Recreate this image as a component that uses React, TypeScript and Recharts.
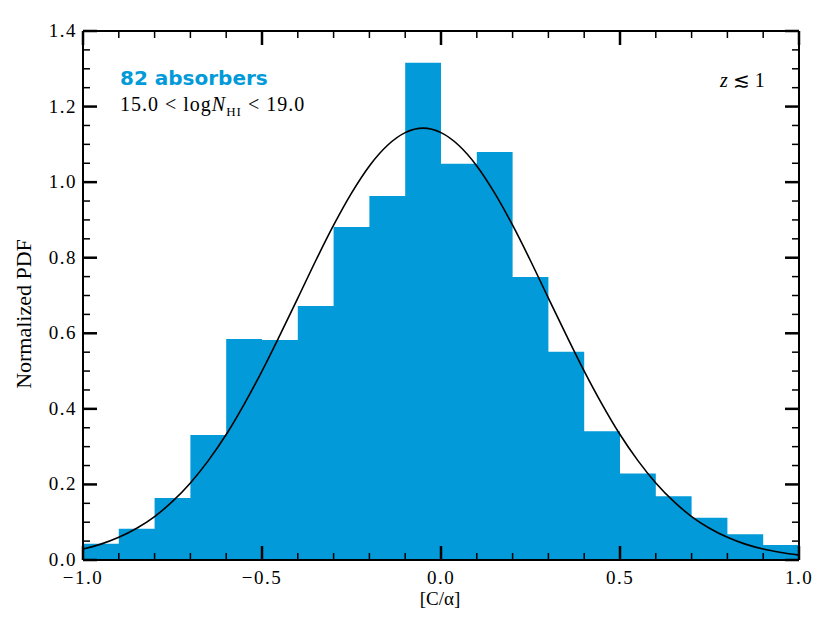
import React from "react"
import { ComposedChart, Area, Line, XAxis, YAxis } from "recharts"

// histogram: left edge of each 0.1 bin and its height (last point closes the step)
const binEdges = [-1.0, -0.9, -0.8, -0.7, -0.6, -0.5, -0.4, -0.3, -0.2, -0.1, 0.0, 0.1, 0.2, 0.3, 0.4, 0.5, 0.6, 0.7, 0.8, 0.9, 1.0]
const binHeights = [0.043, 0.083, 0.164, 0.331, 0.585, 0.582, 0.672, 0.881, 0.963, 1.316, 1.049, 1.08, 0.749, 0.551, 0.341, 0.229, 0.169, 0.112, 0.068, 0.04, 0.04]

// fitted gaussian
const curveX = [-1.0, -0.95, -0.9, -0.85, -0.8, -0.75, -0.7, -0.65, -0.6, -0.55, -0.5, -0.45, -0.4, -0.35, -0.3, -0.25, -0.2, -0.15, -0.1, -0.05, 0.0, 0.05, 0.1, 0.15, 0.2, 0.25, 0.3, 0.35, 0.4, 0.45, 0.5, 0.55, 0.6, 0.65, 0.7, 0.75, 0.8, 0.85, 0.9, 0.95, 1.0]
const curveY = [0.029, 0.042, 0.06, 0.084, 0.115, 0.155, 0.204, 0.263, 0.332, 0.412, 0.5, 0.595, 0.693, 0.792, 0.886, 0.971, 1.043, 1.097, 1.131, 1.143, 1.131, 1.097, 1.043, 0.971, 0.886, 0.792, 0.693, 0.595, 0.5, 0.412, 0.332, 0.263, 0.204, 0.155, 0.115, 0.084, 0.06, 0.042, 0.029, 0.02, 0.013]

const xTicks = [-1.0, -0.9, -0.8, -0.7, -0.6, -0.5, -0.4, -0.3, -0.2, -0.1, 0.0, 0.1, 0.2, 0.3, 0.4, 0.5, 0.6, 0.7, 0.8, 0.9, 1.0]
const yTicks = [0, 0.05, 0.1, 0.15, 0.2, 0.25, 0.3, 0.35, 0.4, 0.45, 0.5, 0.55, 0.6, 0.65, 0.7, 0.75, 0.8, 0.85, 0.9, 0.95, 1.0, 1.05, 1.1, 1.15, 1.2, 1.25, 1.3, 1.35, 1.4]

const histData = binEdges.map((x, i) => ({ x, h: binHeights[i] }))
const curveData = curveX.map((x, i) => ({ x, f: curveY[i] }))

const BLUE = "#029ad8"
const SERIF = "'Liberation Serif', 'DejaVu Serif', serif"
const MAJOR = 14
const MINOR = 7

const isMajor = (v: number, step: number) => Math.abs(v / step - Math.round(v / step)) < 1e-6
const fmt = (v: number) => (v < 0 ? "\u2212" : "") + Math.abs(v).toFixed(1)

const labelStyle = { fontFamily: SERIF, fontSize: 19, fill: "#000", letterSpacing: 1.5 }

function BottomTick({ x, y, payload }: any) {
  const major = isMajor(payload.value, 0.5)
  return (
    <g>
      <line x1={x} x2={x} y1={y} y2={y - (major ? MAJOR : MINOR)} stroke="#000" strokeWidth={major ? 2.5 : 1.5} />
      {major && (
        <text x={x} y={y + 24} textAnchor="middle" style={labelStyle}>
          {fmt(payload.value)}
        </text>
      )}
    </g>
  )
}

function TopTick({ x, y, payload }: any) {
  const major = isMajor(payload.value, 0.5)
  return <line x1={x} x2={x} y1={y} y2={y + (major ? MAJOR : MINOR)} stroke="#000" strokeWidth={major ? 2.5 : 1.5} />
}

function LeftTick({ x, y, payload }: any) {
  const major = isMajor(payload.value, 0.2)
  return (
    <g>
      <line x1={x} x2={x + (major ? MAJOR : MINOR)} y1={y} y2={y} stroke="#000" strokeWidth={major ? 2.5 : 1.5} />
      {major && (
        <text x={x - 6} y={y + 6} textAnchor="end" style={labelStyle}>
          {fmt(payload.value)}
        </text>
      )}
    </g>
  )
}

function RightTick({ x, y, payload }: any) {
  const major = isMajor(payload.value, 0.2)
  return <line x1={x} x2={x - (major ? MAJOR : MINOR)} y1={y} y2={y} stroke="#000" strokeWidth={major ? 2.5 : 1.5} />
}

export default function App() {
  const axisLine = { stroke: "#000", strokeWidth: 2 }

  return (
    <div style={{ position: "absolute", left: 0, top: 0, width: 830, height: 623, background: "#fff" }}>
      <ComposedChart width={830} height={623} margin={{ top: 0, right: 0, bottom: 0, left: 0 }}>
        <Area
          data={histData}
          xAxisId="b"
          yAxisId="l"
          type="stepAfter"
          dataKey="h"
          stroke="none"
          fill={BLUE}
          fillOpacity={1}
          dot={false}
          activeDot={false}
          isAnimationActive={false}
        />
        <Line
          data={curveData}
          xAxisId="b"
          yAxisId="l"
          type="monotone"
          dataKey="f"
          stroke="#000"
          strokeWidth={1.6}
          dot={false}
          activeDot={false}
          isAnimationActive={false}
        />
        <XAxis
          xAxisId="b"
          dataKey="x"
          type="number"
          domain={[-1, 1]}
          ticks={xTicks}
          interval={0}
          height={63}
          tickSize={0}
          tickMargin={0}
          tickLine={false}
          axisLine={axisLine}
          tick={<BottomTick />}
          allowDataOverflow
        />
        <XAxis
          xAxisId="t"
          orientation="top"
          dataKey="x"
          type="number"
          domain={[-1, 1]}
          ticks={xTicks}
          interval={0}
          height={31}
          tickSize={0}
          tickMargin={0}
          tickLine={false}
          axisLine={axisLine}
          tick={<TopTick />}
          allowDataOverflow
        />
        <YAxis
          yAxisId="l"
          type="number"
          domain={[0, 1.4]}
          ticks={yTicks}
          interval={0}
          width={83}
          tickSize={0}
          tickMargin={0}
          tickLine={false}
          axisLine={axisLine}
          tick={<LeftTick />}
          allowDataOverflow
        />
        <YAxis
          yAxisId="r"
          orientation="right"
          type="number"
          domain={[0, 1.4]}
          ticks={yTicks}
          interval={0}
          width={31}
          tickSize={0}
          tickMargin={0}
          tickLine={false}
          axisLine={axisLine}
          tick={<RightTick />}
          allowDataOverflow
        />
      </ComposedChart>

      <div
        style={{
          position: "absolute",
          left: 120,
          top: 66,
          fontFamily: "'DejaVu Sans', sans-serif",
          fontWeight: "bold",
          fontSize: 20,
          color: BLUE,
          whiteSpace: "nowrap",
          lineHeight: "24px",
        }}
      >
        82 absorbers
      </div>
      <div
        style={{
          position: "absolute",
          left: 120,
          top: 92,
          fontFamily: SERIF,
          fontSize: 20,
          letterSpacing: 1,
          color: "#000",
          whiteSpace: "nowrap",
          lineHeight: "24px",
        }}
      >
        15.0 &lt; log<i>N</i>
        <sub style={{ fontSize: 13 }}>HI</sub> &lt; 19.0
      </div>
      <div
        style={{
          position: "absolute",
          left: 720,
          top: 68,
          fontFamily: SERIF,
          fontSize: 20,
          color: "#000",
          whiteSpace: "nowrap",
          lineHeight: "24px",
        }}
      >
        <i>z</i> {"\u2272"} 1
      </div>
      <div
        style={{
          position: "absolute",
          left: 340,
          width: 200,
          top: 589,
          textAlign: "center",
          fontFamily: SERIF,
          fontSize: 19,
          color: "#000",
          lineHeight: "19px",
        }}
      >
        [C/α]
      </div>
      <div
        style={{
          position: "absolute",
          left: 24 - 100,
          top: 314 - 12,
          width: 200,
          textAlign: "center",
          transform: "rotate(-90deg)",
          fontFamily: SERIF,
          fontSize: 22,
          color: "#000",
          lineHeight: "24px",
        }}
      >
        Normalized PDF
      </div>
    </div>
  )
}
